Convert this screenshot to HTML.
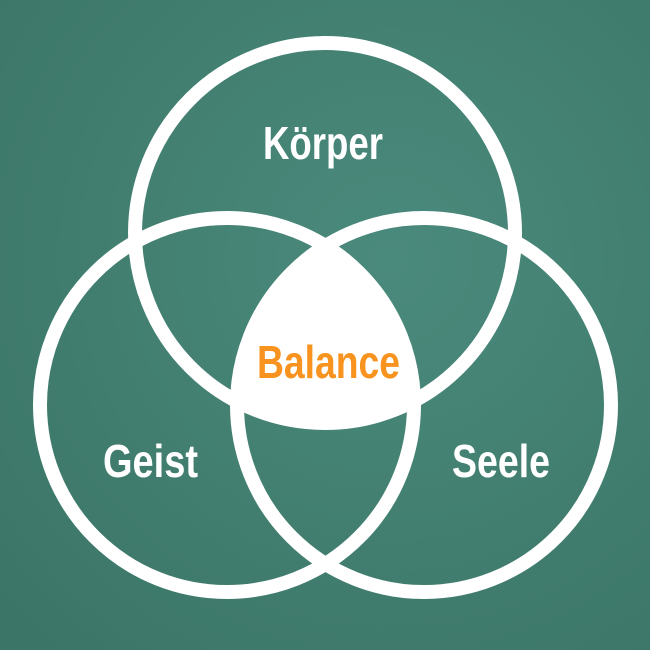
<!DOCTYPE html>
<html><head><style>
html,body{margin:0;padding:0;background:#417f72;}
svg{display:block}
text{font-family:"Liberation Sans",sans-serif;font-weight:bold;}
</style></head><body>
<svg width="650" height="650" viewBox="0 0 650 650" xmlns="http://www.w3.org/2000/svg">
<defs>
<radialGradient id="bg" cx="0.6" cy="0.4" r="0.8">
<stop offset="0" stop-color="#4a8a7c"/><stop offset="1" stop-color="#3b7567"/>
</radialGradient>
<clipPath id="cl"><circle cx="227" cy="405" r="187"/></clipPath>
<clipPath id="cr"><circle cx="424" cy="405" r="187"/></clipPath>
</defs>
<rect width="650" height="650" fill="url(#bg)"/>
<g clip-path="url(#cl)"><g clip-path="url(#cr)"><circle cx="325" cy="233" r="190" fill="#fff"/></g></g>
<g fill="none" stroke="#fff" stroke-width="14">
<circle cx="325" cy="233" r="190"/>
<circle cx="227" cy="405" r="187"/>
<circle cx="424" cy="405" r="187"/>
</g>
<text x="263" y="159" font-size="46" fill="#fff" textLength="120" lengthAdjust="spacingAndGlyphs">Körper</text>
<text x="103" y="477" font-size="46" fill="#fff" textLength="95" lengthAdjust="spacingAndGlyphs">Geist</text>
<text x="452" y="477" font-size="46" fill="#fff" textLength="98" lengthAdjust="spacingAndGlyphs">Seele</text>
<text x="257" y="378" font-size="46" fill="#f7931e" textLength="143" lengthAdjust="spacingAndGlyphs">Balance</text>
</svg>
</body></html>
